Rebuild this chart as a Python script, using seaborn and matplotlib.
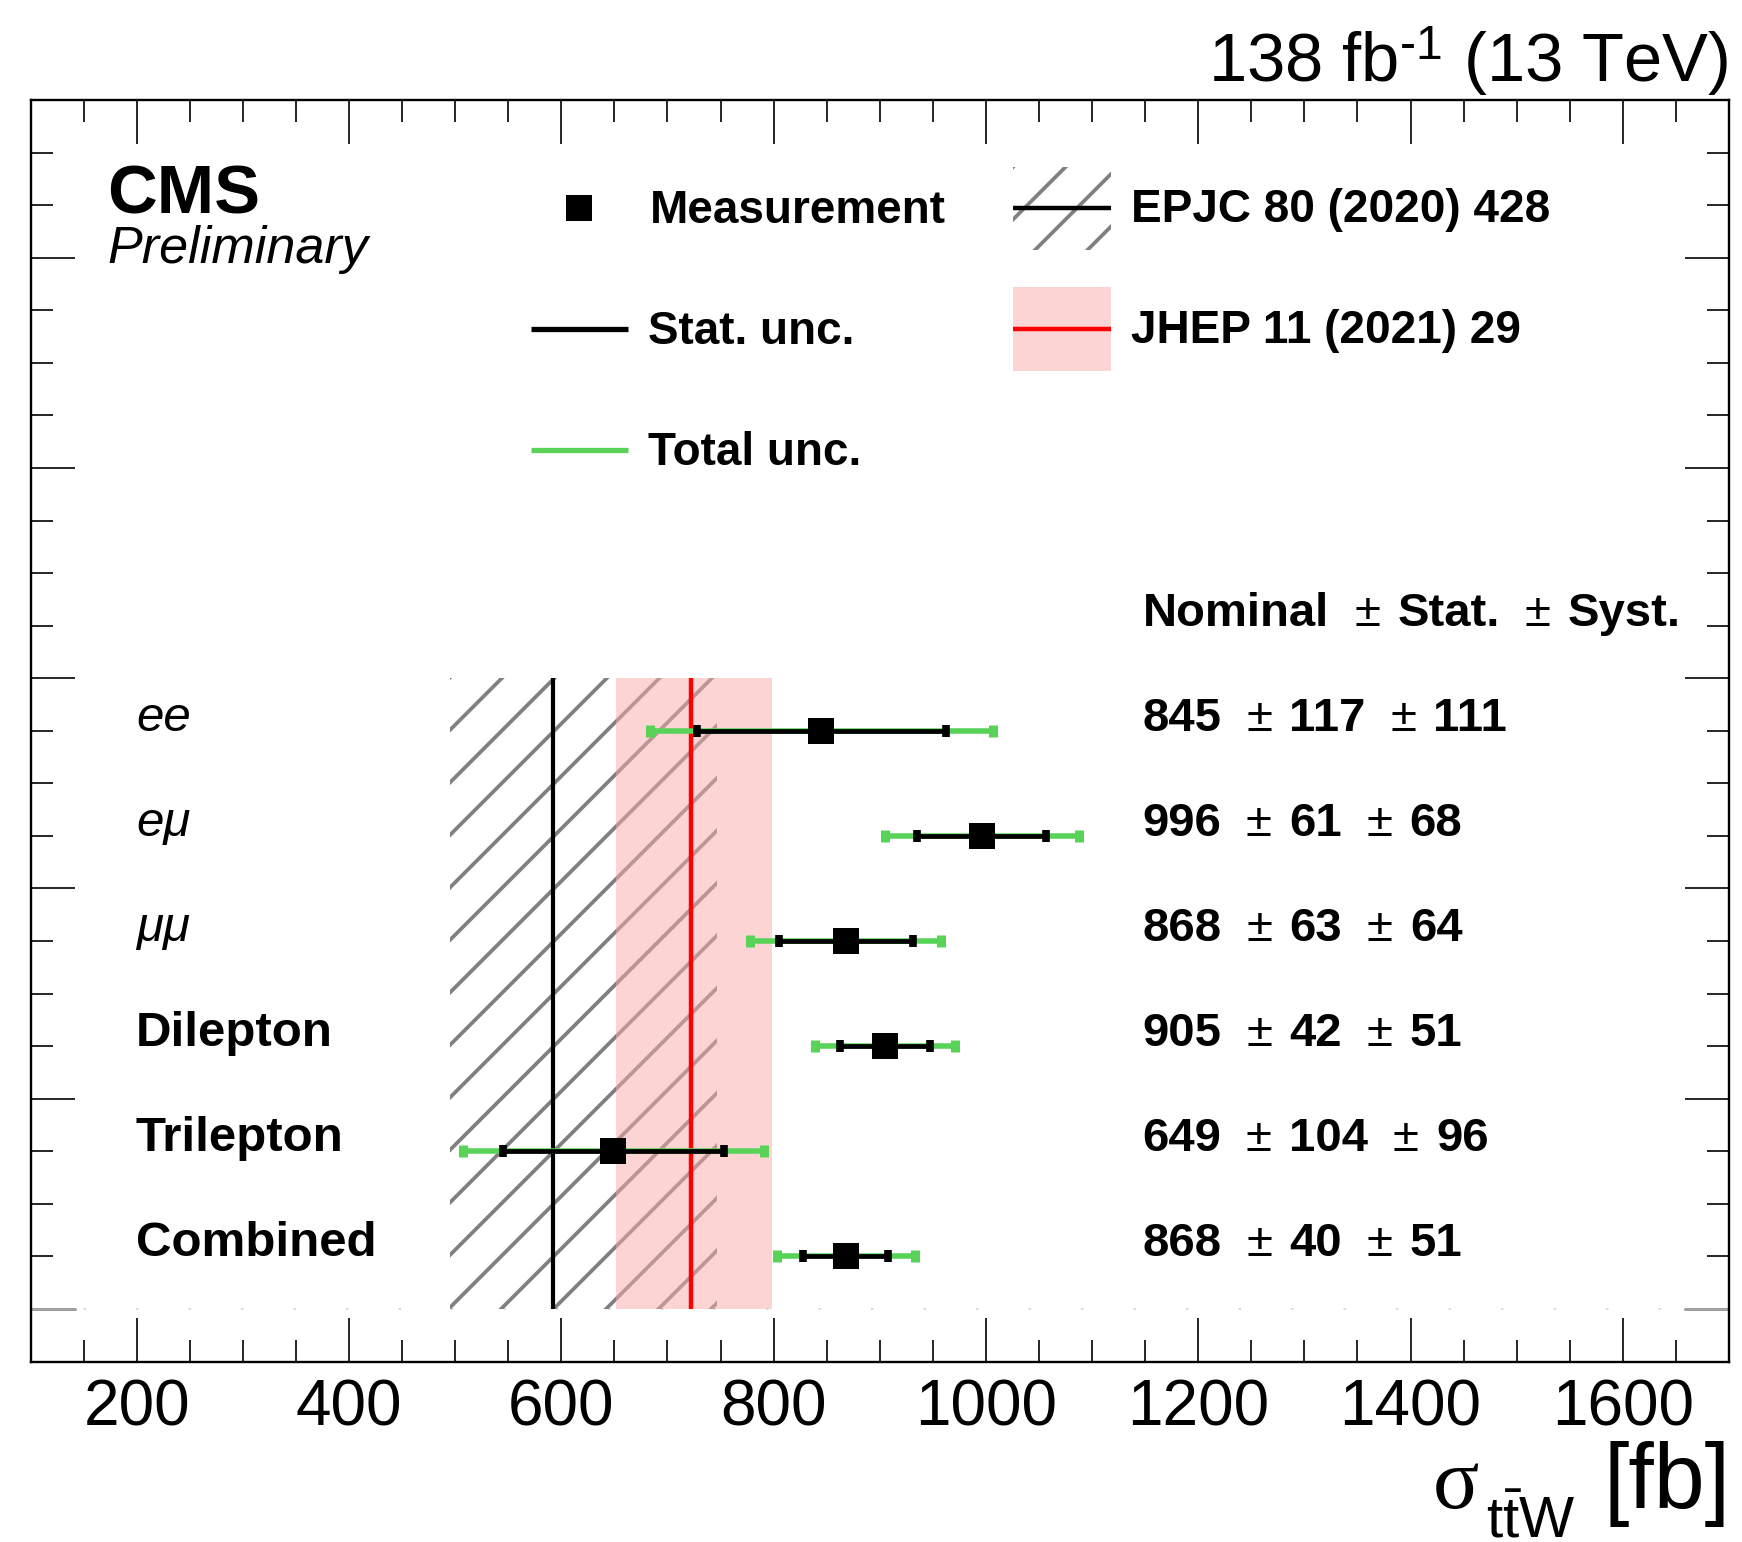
import numpy as np
import pandas as pd
import matplotlib
matplotlib.use("Agg")
import matplotlib.pyplot as plt
import matplotlib.transforms as mtransforms
from matplotlib.patches import Rectangle
from matplotlib.ticker import FixedLocator, MultipleLocator
import seaborn as sns

# ---------------- data ----------------
categories = ["ee", "eμ", "μμ", "Dilepton", "Trilepton", "Combined"]
nominal = [845, 996, 868, 905, 649, 868]
stat_unc = [117, 61, 63, 42, 104, 40]
syst_unc = [111, 68, 64, 51, 96, 51]
label_bold = [False, False, False, True, True, True]

# theory predictions: central, +up, -down
epjc_central, epjc_up, epjc_down = 592, 155, 97
jhep_central, jhep_up, jhep_down = 722.4, 76, 71

xtick_values = [200, 400, 600, 800, 1000, 1200, 1400, 1600]
header_parts = ["Nominal", "±", "Stat.", "±", "Syst."]

legend_labels = ["Measurement", "Stat. unc.", "Total unc.",
                 "EPJC 80 (2020) 428", "JHEP 11 (2021) 29"]

# ---------------- style ----------------
sns.set_theme(style="ticks")
plt.rcParams.update({
    "font.family": ["Liberation Sans", "DejaVu Sans"],
    "mathtext.fontset": "custom",
    "mathtext.rm": "Liberation Sans",
    "mathtext.it": "Liberation Serif",
    "mathtext.bf": "Liberation Sans:bold",
    "axes.linewidth": 1.7,
    "axes.edgecolor": "black",
    "text.color": "black",
    "xtick.color": "black",
    "ytick.color": "black",
})

GREEN = "#58d358"
PINK = (250 / 255, 170 / 255, 170 / 255)
HATCH_GREY = "#808080"

W, H = 1742, 1542
fig = plt.figure(figsize=(W / 100, H / 100), dpi=100)
fig.patch.set_facecolor("white")
AX_L, AX_R, AX_T, AX_B = 30.5, 1729.0, 100.0, 1361.5
ax = fig.add_axes([AX_L / W, 1 - AX_B / H, (AX_R - AX_L) / W, (AX_B - AX_T) / H])
ax.set_facecolor("white")

n = len(categories)
df = pd.DataFrame({
    "category": categories,
    "nominal": nominal,
    "stat": stat_unc,
    "syst": syst_unc,
    "y": np.arange(n)[::-1] + 0.5,
})
df["total"] = np.hypot(df["stat"], df["syst"])

XLIM = (100, 1700)
YLIM = (-0.5, 2 * n - 0.5)
ax.set_xlim(*XLIM)
ax.set_ylim(*YLIM)


def axf(px, py):
    """figure pixel (from top-left) -> axes fraction"""
    return ((px - AX_L) / (AX_R - AX_L), (AX_B - py) / (AX_B - AX_T))


def px_to_x(px):
    return ax.transData.inverted().transform((px, 0))[0]


def add_hatch(x0, y0, x1, y1, transform, spacing=52.5, phase=47.0,
              color=HATCH_GREY, lw=2.7, zorder=1.0):
    rect = Rectangle((x0, y0), x1 - x0, y1 - y0, transform=transform,
                     fc="none", ec="none", lw=0)
    ax.add_patch(rect)
    dx0, dy0 = transform.transform((x0, y0))
    dx1, dy1 = transform.transform((x1, y1))
    cmin, cmax = dy0 - dx1, dy1 - dx0
    k0 = np.floor((cmin - phase) / spacing) - 1
    k1 = np.ceil((cmax - phase) / spacing) + 1
    inv = ax.transData.inverted()
    for k in np.arange(k0, k1 + 1):
        c = phase + k * spacing
        p = np.array([[dx0 - 5, dx0 - 5 + c], [dx1 + 5, dx1 + 5 + c]])
        d = inv.transform(p)
        ln, = ax.plot(d[:, 0], d[:, 1], color=color, lw=lw, zorder=zorder,
                      solid_capstyle="butt")
        ln.set_clip_path(rect)


# ---------------- theory bands ----------------
add_hatch(epjc_central - epjc_down, 0, epjc_central + epjc_up, n, ax.transData)
ax.vlines(epjc_central, 0, n, color="black", lw=3.0, zorder=1.5)
ax.add_patch(Rectangle((jhep_central - jhep_down, 0), jhep_up + jhep_down, n,
                       facecolor=PINK, alpha=0.5, edgecolor="none", zorder=2))
ax.vlines(jhep_central, 0, n, color="red", lw=3.2, zorder=3)

# ---------------- measurements ----------------
ax.errorbar(df["nominal"], df["y"], xerr=df["total"], fmt="none", ecolor=GREEN,
            elinewidth=4.0, capsize=4.5, capthick=6.5, zorder=4)
ax.errorbar(df["nominal"], df["y"], xerr=df["stat"], fmt="none", ecolor="black",
            elinewidth=3.4, capsize=4.5, capthick=5.5, zorder=5)
sns.scatterplot(data=df, x="nominal", y="y", marker="s", s=361, color="black",
                edgecolor="black", linewidth=0, ax=ax, zorder=6, legend=False)
ax.set_xlabel("")
ax.set_ylabel("")

# grey line at y = 0
trans_b = mtransforms.blended_transform_factory(ax.transAxes, ax.transData)
ax.axhline(0, color="#d4d4d4", lw=1.2, ls=(0, (1.5, 30)), zorder=0.5)
ax.plot([0, 0.026], [0, 0], transform=trans_b, color="#a0a0a0", lw=2.2, zorder=7)
ax.plot([0.974, 1], [0, 0], transform=trans_b, color="#a0a0a0", lw=2.2, zorder=7)

# ---------------- row labels ----------------
for cat, yv, bold in zip(df["category"], df["y"], label_bold):
    ax.text(px_to_x(136), yv, cat, fontsize=35.5,
            weight="bold" if bold else "normal",
            style="normal" if bold else "italic",
            va="baseline", ha="left", zorder=8)

# ---------------- numbers ----------------
fig.canvas.draw()
renderer = fig.canvas.get_renderer()


def place_sequence(x_start_px, yv, parts, size=34):
    x = x_start_px
    for i, txt in enumerate(parts):
        is_pm = txt == "±"
        if i > 0:
            x += 25 if is_pm else 17
        t = ax.annotate(txt, xy=(x, yv), xycoords=("figure pixels", "data"),
                        fontsize=size, weight="normal" if is_pm else "bold",
                        va="baseline", ha="left", annotation_clip=False, zorder=8)
        x = t.get_window_extent(renderer).x1


place_sequence(1143, n + 0.5, header_parts)
for _, row in df.iterrows():
    place_sequence(1142, row["y"],
                   [str(int(row["nominal"])), "±", str(int(row["stat"])),
                    "±", str(int(row["syst"]))])

# ---------------- legend ----------------
mx, my = axf(579, 208)
ax.plot([mx], [my], marker="s", ms=19, color="black", mew=0,
        transform=ax.transAxes, clip_on=False, zorder=8)
for py, col in [(329, "black"), (450, GREEN)]:
    x0, yy = axf(531, py)
    x1, _ = axf(628, py)
    ax.plot([x0, x1], [yy, yy], color=col, lw=3.8, solid_capstyle="butt",
            transform=ax.transAxes, zorder=8)

bx0, by1 = axf(1013, 167)
bx1, by0 = axf(1111, 250)
add_hatch(bx0, by0, bx1, by1, ax.transAxes)
_, ly = axf(0, 208)
ax.plot([bx0, bx1], [ly, ly], color="black", lw=3.2, solid_capstyle="butt",
        transform=ax.transAxes, zorder=8)

jx0, jy1 = axf(1013, 287)
jx1, jy0 = axf(1111, 371)
ax.add_patch(Rectangle((jx0, jy0), jx1 - jx0, jy1 - jy0, transform=ax.transAxes,
                       facecolor=PINK, alpha=0.5, edgecolor="none", zorder=2))
_, ly = axf(0, 329)
ax.plot([jx0, jx1], [ly, ly], color="red", lw=3.2, solid_capstyle="butt",
        transform=ax.transAxes, zorder=8)

legend_pos = [(650, 223), (648, 344), (648, 465), (1131, 222), (1131, 343)]
for lab, (px, py) in zip(legend_labels, legend_pos):
    fx, fy = axf(px, py)
    ax.text(fx, fy, lab, transform=ax.transAxes, fontsize=33, weight="bold",
            va="baseline", ha="left", zorder=8)

# ---------------- axes / ticks ----------------
ax.xaxis.set_major_locator(FixedLocator(xtick_values))
ax.set_xticklabels([str(v) for v in xtick_values])
ax.xaxis.set_minor_locator(MultipleLocator(50))
ax.yaxis.set_major_locator(FixedLocator([2, 4, 6, 8, 10]))
ax.yaxis.set_minor_locator(FixedLocator(
    [v for v in np.arange(0.5, 11.5, 0.5) if v % 2 != 0]))
ax.tick_params(which="both", direction="in", top=True, right=True,
               labelleft=False, labelright=False, labeltop=False)
ax.tick_params(which="major", length=31.7, width=1.2, labelsize=46, pad=12.5)
ax.tick_params(which="minor", length=15.8, width=1.2)
for s in ax.spines.values():
    s.set_linewidth(1.7)
    s.set_color("black")
    s.set_zorder(10)
ax.set_xlim(*XLIM)
ax.set_ylim(*YLIM)

# ---------------- figure texts ----------------
fig.text(1728 / W, 1 - 82 / H, r"138 fb$^{\text{-1}}$ (13 TeV)", ha="right",
         va="baseline", fontsize=49.5)
fig.text(107 / W, 1 - 213 / H, "CMS", ha="left", va="baseline",
         fontsize=49.5, weight="bold")
fig.text(107 / W, 1 - 263 / H, "Preliminary", ha="left", va="baseline",
         fontsize=37.5, style="italic")

# x-axis title: sigma (serif), subscript ttW, [fb]
fig.text(1730 / W, 1 - 1508 / H, "[fb]", ha="right", va="baseline", fontsize=66)
fig.text(1433 / W, 1 - 1508 / H, "σ", ha="left", va="baseline", fontsize=62,
         family=["Liberation Serif", "DejaVu Serif"])
fig.text(1486 / W, 1 - 1538 / H, r"$\mathrm{t\bar{t}W}$", ha="left",
         va="baseline", fontsize=42)

fig.savefig("out.png", dpi=100, facecolor="white")
